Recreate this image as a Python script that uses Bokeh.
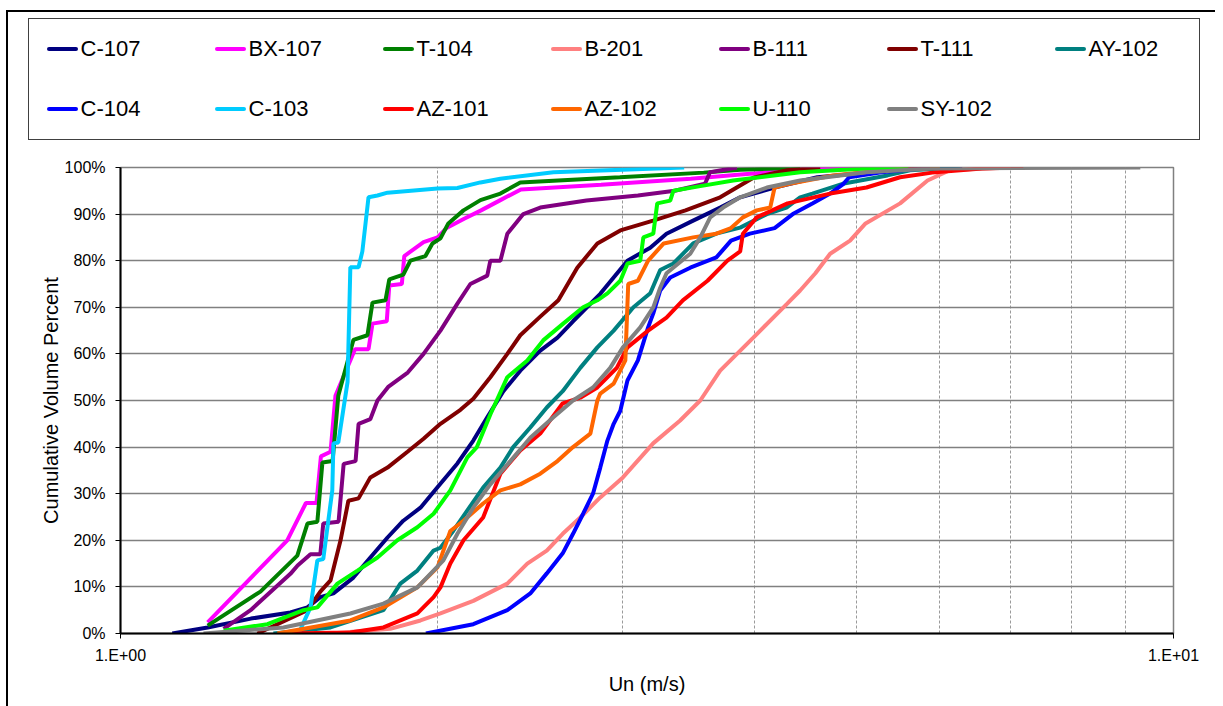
from bokeh.plotting import figure
from bokeh.layouts import column
from bokeh.models import Range1d, FixedTicker, Div
from bokeh.embed import file_html
from bokeh.resources import INLINE

# ---------------- data (x: Un in m/s, y: cumulative volume percent) ----------------
c107_x = [1.12, 1.21, 1.33, 1.45, 1.505, 1.548, 1.593, 1.664, 1.727, 1.793, 1.856, 1.927, 2.00, 2.089,
          2.163, 2.23, 2.31, 2.397, 2.504, 2.60, 2.69, 2.855, 3.03, 3.185, 3.30, 3.498, 3.711, 3.877,
          4.18, 4.59, 5.11, 5.71, 6.3]
c107_y = [0, 1.3, 3.2, 4.5, 5.6, 7.8, 8.6, 12, 16.3, 20.6, 24.2, 27, 31.4, 36.5, 41.4, 46.4, 52, 56.4,
          60.7, 63.5, 67, 72.9, 80, 82.8, 85.8, 88.6, 91.4, 93.6, 95.7, 97.9, 98.9, 99.8, 100]

bx107_x = [1.21, 1.44, 1.50, 1.535, 1.55, 1.583, 1.60, 1.67, 1.72, 1.735, 1.79, 1.80, 1.85, 1.86, 1.94,
           2.00, 2.04, 2.12, 2.20, 2.295, 2.40, 2.86, 3.48, 3.88, 4.42, 5.04]
bx107_y = [2.4, 20, 28, 28, 38, 39, 51, 61, 61, 66.5, 67, 74.7, 75, 81, 84, 85, 87, 89, 90.8, 93, 95.3,
           96.3, 97.6, 98.5, 99.5, 100]

t104_x = [1.21, 1.358, 1.472, 1.505, 1.538, 1.555, 1.59, 1.61, 1.664, 1.716, 1.735, 1.785, 1.80, 1.856,
          1.885, 1.948, 1.978, 2.013, 2.048, 2.117, 2.197, 2.295, 2.397, 2.98, 3.58, 3.88, 4.42]
t104_y = [1.7, 9, 16.7, 23.6, 24, 36.7, 37, 51, 63, 64, 71, 71.5, 76, 77, 80, 81, 83.7, 84.8, 88, 90.8,
          93, 94.4, 96.8, 97.9, 98.9, 99.5, 100]

b201_x = [1.583, 1.804, 1.927, 2.013, 2.163, 2.33, 2.434, 2.54, 2.63, 2.733, 2.855, 3.00, 3.205, 3.40,
          3.553, 3.711, 3.99, 4.297, 4.42, 4.57, 4.72, 4.93, 5.10, 5.50, 5.84, 6.13, 6.57, 7.0]
b201_y = [0, 1, 2.8, 4.3, 7, 10.7, 15, 17.8, 21.4, 24.9, 29.2, 33.5, 40.8, 45.7, 50, 56.4, 63.5, 70.8,
          73.6, 77.3, 81.5, 84.3, 88, 92.3, 97.2, 99.4, 99.8, 100]

b111_x = [1.253, 1.329, 1.45, 1.473, 1.515, 1.548, 1.558, 1.611, 1.629, 1.672, 1.683, 1.727, 1.754,
          1.797, 1.874, 1.94, 2.013, 2.089, 2.149, 2.23, 2.245, 2.295, 2.33, 2.413, 2.504, 2.77, 3.10,
          3.36, 3.59, 3.63, 3.85]
b111_y = [1, 5, 12.8, 14.6, 17, 17, 23.6, 24, 36.4, 37, 45, 46, 50, 53, 56, 60, 65, 70.8, 75, 76.8, 80,
          80, 85.8, 90, 91.4, 92.9, 94, 95, 96.5, 99, 100]

t111_x = [1.349, 1.505, 1.548, 1.583, 1.618, 1.646, 1.683, 1.727, 1.793, 1.873, 1.94, 2.013, 2.103,
          2.163, 2.245, 2.33, 2.397, 2.504, 2.605, 2.715, 2.837, 2.983, 3.205, 3.44, 3.711, 3.99, 4.297,
          4.618]
t111_y = [0, 5, 9, 11.4, 20, 28.5, 29, 33.5, 35.6, 39, 41.8, 45, 48, 50.4, 55, 60, 64, 68, 71.5, 78.5,
          83.7, 86.5, 88.6, 90.8, 93.6, 97.8, 99.4, 100]

ay102_x = [1.397, 1.583, 1.777, 1.844, 1.914, 1.983, 2.013, 2.07, 2.135, 2.21, 2.295, 2.36, 2.45, 2.54,
           2.63, 2.733, 2.837, 2.94, 3.07, 3.185, 3.255, 3.35, 3.498, 3.68, 3.877, 4.11, 4.29, 4.42,
           4.54, 4.85, 5.35, 5.62, 6.27]
ay102_y = [0, 1.3, 5, 10.7, 13.5, 17.8, 18.4, 22, 26.4, 31.3, 35.6, 40, 44.2, 48.5, 52, 57, 61.4, 65,
           70, 73, 78, 79.4, 83.7, 85.8, 87.1, 90, 91.4, 93.6, 94.4, 96.5, 98.3, 99.4, 100]

c104_x = [1.95, 2.163, 2.33, 2.45, 2.54, 2.63, 2.69, 2.75, 2.81, 2.855, 2.90, 2.94, 2.983, 3.03, 3.10,
          3.17, 3.206, 3.255, 3.327, 3.476, 3.68, 3.80, 3.96, 4.18, 4.35, 4.54, 4.72, 4.86, 4.92, 5.26,
          5.87]
c104_y = [0, 2, 5, 8.6, 12.9, 17.2, 21.4, 25.7, 30, 35.6, 41.4, 45, 47.8, 54.3, 58.6, 65.7, 68.7, 73.6,
          76.4, 78.5, 80.7, 84.3, 85.8, 87, 90, 92.3, 94.4, 96.5, 97.9, 98.9, 100]

c103_x = [1.476, 1.515, 1.538, 1.558, 1.589, 1.593, 1.61, 1.643, 1.653, 1.683, 1.697, 1.72, 1.754,
          1.793, 2.00, 2.089, 2.197, 2.295, 2.577, 3.43]
c103_y = [0, 5.6, 15.7, 16, 30.7, 40.8, 41, 54, 78.6, 78.6, 82, 93.6, 94, 94.6, 95.5, 95.6, 96.8, 97.6,
          99, 100]

az101_x = [1.428, 1.653, 1.777, 1.914, 1.983, 2.013, 2.057, 2.117, 2.21, 2.295, 2.397, 2.504, 2.63,
           2.733, 2.837, 2.96, 3.03, 3.17, 3.30, 3.42, 3.61, 3.77, 3.877, 3.90, 4.02, 4.30, 4.72, 5.11,
           5.50, 5.90, 6.58, 7.2]
az101_y = [0, 0.2, 1.3, 4.3, 7.8, 9.9, 15, 20, 24.9, 34.3, 39.3, 42.9, 49.4, 50.6, 52.8, 57, 61.4, 65,
           67.8, 71.5, 75.7, 80, 82, 85.8, 89.3, 92.3, 94.4, 95.7, 97.9, 98.9, 99.8, 100]

az102_x = [1.409, 1.653, 1.777, 1.914, 2.00, 2.057, 2.117, 2.21, 2.295, 2.397, 2.504, 2.60, 2.69,
           2.794, 2.837, 2.855, 2.94, 3.016, 3.035, 3.10, 3.17, 3.28, 3.498, 3.68, 3.80, 3.90, 4.02,
           4.14, 4.18, 4.32, 4.75, 5.30, 6.0]
az102_y = [0, 2.8, 5.6, 9.9, 14.2, 22, 24.2, 27.9, 30.7, 32, 34.3, 37, 40, 42.9, 50, 51.5, 53.6, 58.6,
           75, 75.7, 80, 83.7, 85, 85.8, 87, 89.3, 90.8, 91.4, 95.7, 96.5, 98.3, 99.4, 100]

u110_x = [1.253, 1.379, 1.492, 1.538, 1.607, 1.679, 1.754, 1.832, 1.914, 1.983, 2.057, 2.135, 2.18,
          2.245, 2.33, 2.434, 2.52, 2.633, 2.75, 2.837, 2.90, 2.983, 3.03, 3.116, 3.137, 3.206, 3.234,
          3.327, 3.35, 3.553, 3.818, 4.42, 5.11, 5.6]
u110_y = [0.6, 2, 5, 5.6, 10.7, 13.5, 16.3, 20, 22.8, 25.7, 30.7, 37.8, 40, 47, 55, 58.6, 62.9, 66.5,
          70, 71.5, 73, 75.7, 79.4, 80, 85, 85.8, 92.3, 92.9, 95, 96, 97.2, 99, 99.8, 100]

sy102_x = [1.199, 1.428, 1.653, 1.777, 1.914, 2.026, 2.089, 2.163, 2.245, 2.3455, 2.45, 2.577, 2.69,
           2.81, 2.918, 3.00, 3.116, 3.206, 3.255, 3.30, 3.476, 3.553, 3.631, 3.735, 3.877, 4.11, 4.42,
           5.11, 5.90, 9.30]
sy102_y = [0, 1.3, 4.3, 6.4, 9.9, 15.7, 21.4, 27, 32, 37, 42, 46.4, 50, 52.8, 57, 61.4, 65.7, 70, 74.2,
           77.3, 81.5, 85, 89.3, 91.4, 93.6, 95.7, 97.2, 99, 99.8, 100]

series_names = ["C-107", "BX-107", "T-104", "B-201", "B-111", "T-111", "AY-102",
                "C-104", "C-103", "AZ-101", "AZ-102", "U-110", "SY-102"]
series_colors = ["#000080", "#FF00FF", "#008000", "#FF8080", "#800080", "#800000", "#008080",
                 "#0000FF", "#00CCFF", "#FF0000", "#FF6600", "#00FF00", "#808080"]
series_x = [c107_x, bx107_x, t104_x, b201_x, b111_x, t111_x, ay102_x,
            c104_x, c103_x, az101_x, az102_x, u110_x, sy102_x]
series_y = [c107_y, bx107_y, t104_y, b201_y, b111_y, t111_y, ay102_y,
            c104_y, c103_y, az101_y, az102_y, u110_y, sy102_y]

y_ticks = [0, 10, 20, 30, 40, 50, 60, 70, 80, 90, 100]
y_tick_labels = ["0%", "10%", "20%", "30%", "40%", "50%", "60%", "70%", "80%", "90%", "100%"]
x_ticks = [1, 10]
x_tick_labels = ["1.E+00", "1.E+01"]
x_minor = [2, 3, 4, 5, 6, 7, 8, 9]

FONT = "Liberation Sans"
LEG_H = 140

# ---------------- legend strip (HTML) ----------------
cells = []
for name, color in zip(series_names, series_colors):
    cells.append(
        '<div style="display:flex;align-items:center;height:24px;white-space:nowrap;">'
        f'<span style="display:inline-block;width:31px;height:4px;background:{color};'
        'border-radius:2px;margin-right:3px;"></span>'
        f'<span>{name}</span></div>')
legend_html = (
    '<div style="margin-left:20px;margin-top:6px;width:1172px;height:122px;box-sizing:border-box;'
    'border:1.5px solid #404040;padding:17.5px 17.5px;display:grid;'
    'grid-template-columns:repeat(6,168px) 126px;grid-template-rows:24px 24px;row-gap:36px;'
    "font-family:'Liberation Sans',Arial,sans-serif;font-size:22px;color:black;background:white;\">"
    + "".join(cells) + '</div>')
leg = Div(text=legend_html, width=1207, height=LEG_H, margin=0)

# ---------------- main plot ----------------
p = figure(width=1207, height=694 - LEG_H, x_axis_type="log",
           x_range=Range1d(1, 10), y_range=Range1d(0, 100),
           output_backend="svg", toolbar_location=None,
           min_border_left=112, min_border_right=42, min_border_top=15, min_border_bottom=73,
           background_fill_color="white", border_fill_color="white")

p.outline_line_color = "#808080"
p.outline_line_width = 1.5

p.ygrid.ticker = FixedTicker(ticks=y_ticks)
p.ygrid.grid_line_color = "#808080"
p.ygrid.grid_line_width = 1.5
p.xgrid.ticker = FixedTicker(ticks=x_ticks, minor_ticks=x_minor)
p.xgrid.grid_line_color = "#808080"
p.xgrid.minor_grid_line_color = "#9a9a9a"
p.xgrid.minor_grid_line_dash = "3 2"
p.xgrid.minor_grid_line_width = 1

p.xaxis.ticker = FixedTicker(ticks=x_ticks, minor_ticks=x_minor)
p.xaxis.major_label_overrides = {t: l for t, l in zip(x_ticks, x_tick_labels)}
p.yaxis.ticker = FixedTicker(ticks=y_ticks)
p.yaxis.major_label_overrides = {t: l for t, l in zip(y_ticks, y_tick_labels)}
for ax in (p.xaxis[0], p.yaxis[0]):
    ax.axis_line_color = "black"
    ax.axis_line_width = 2
    ax.major_tick_line_color = "black"
    ax.major_tick_in = 0
    ax.major_tick_out = 5
    ax.minor_tick_in = 0
    ax.minor_tick_out = 0
    ax.major_label_text_font = FONT
    ax.major_label_text_font_size = "16px"
    ax.major_label_text_color = "black"
    ax.axis_label_text_font = FONT
    ax.axis_label_text_font_size = "20px"
    ax.axis_label_text_font_style = "normal"
    ax.axis_label_text_color = "black"
p.xaxis.axis_label = "Un (m/s)"
p.yaxis.axis_label = "Cumulative Volume Percent"
p.xaxis.major_label_standoff = 8
p.yaxis.major_label_standoff = 10
p.xaxis.axis_label_standoff = 6
p.yaxis.axis_label_standoff = 0

for name, color, xs, ys in zip(series_names, series_colors, series_x, series_y):
    p.line(xs, ys, line_color=color, line_width=4)

layout = column(leg, p, spacing=0,
                styles={"border-left": "2px solid black", "border-top": "2px solid black",
                        "margin-left": "6px", "margin-top": "10px"})

open("out.html", "w").write(file_html(layout, INLINE))
